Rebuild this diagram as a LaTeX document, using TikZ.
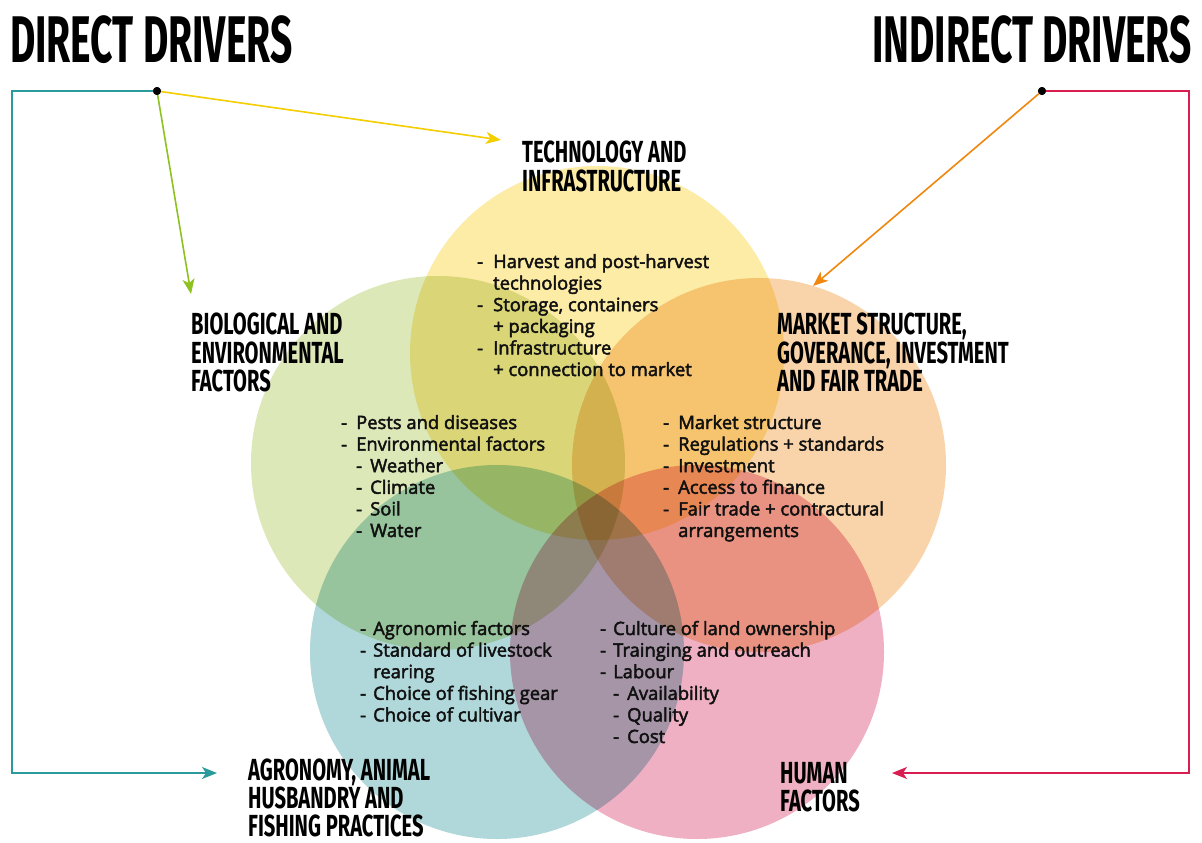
\documentclass[tikz,border=0pt]{standalone}
\usepackage{fontspec}
\setmainfont{Open Sans}[FakeBold=2.5]
\newfontfamily\bigheadfont[FakeStretch=0.59]{Fira Sans}
\newfontfamily\subheadfont[FakeStretch=0.66]{Fira Sans}
\usetikzlibrary{arrows.meta}
\definecolor{cY}{HTML}{FCECA6}
\definecolor{cG}{HTML}{DDE8B8}
\definecolor{cO}{HTML}{F9D4AA}
\definecolor{cT}{HTML}{B0D8DA}
\definecolor{cP}{HTML}{F0B0C4}
\definecolor{lnTeal}{HTML}{2A9A9C}
\definecolor{lnYellow}{HTML}{F5CE00}
\definecolor{lnGreen}{HTML}{8DC21F}
\definecolor{lnOrange}{HTML}{F0870F}
\definecolor{lnRed}{HTML}{D81E50}
\definecolor{txt}{HTML}{111111}
\begin{document}
\begin{tikzpicture}[x=1pt,y=-1pt,
  bigtitle/.style={inner sep=0pt,font=\bigheadfont\bfseries\fontsize{66}{66}\selectfont},
  subtitle/.style={inner sep=0pt,align=left,anchor=north west,font=\subheadfont\bfseries\fontsize{30.5}{28.5}\selectfont},
  lst/.style={inner sep=0pt,anchor=base west,text=txt,font=\fontsize{18.4}{21.6}\selectfont},
  dotnode/.style={circle,fill=black,inner sep=0pt,minimum size=8pt},
  conn/.style={line width=1.6pt,-{Stealth[length=15pt,width=12pt,inset=4pt]}},
  plain/.style={line width=1.6pt}
]
\useasboundingbox (0,0) rectangle (1202,843);
\fill[white] (0,0) rectangle (1202,843);
% circles
\begin{scope}[blend group=multiply]
  \fill[cY] (597,353) circle[radius=187];
  \fill[cG] (438,463) circle[radius=187];
  \fill[cO] (759,465) circle[radius=187];
  \fill[cT] (497,652) circle[radius=187];
  \fill[cP] (697,652) circle[radius=187];
\end{scope}
% titles
\node[bigtitle,anchor=north west] (direct) at (10,15) {DIRECT DRIVERS};
\node[bigtitle,anchor=north east] (indirect) at (1192,15) {INDIRECT DRIVERS};
% sub headings
\node[subtitle] (tech) at (522,141) {TECHNOLOGY AND\\INFRASTRUCTURE};
\node[subtitle] (bio) at (191,313) {BIOLOGICAL AND\\ENVIRONMENTAL\\FACTORS};
\node[subtitle] (market) at (777,313) {MARKET STRUCTURE,\\GOVERANCE, INVESTMENT\\AND FAIR TRADE};
\node[subtitle,font=\subheadfont\bfseries\fontsize{30.5}{28}\selectfont] (agro) at (248,759) {AGRONOMY, ANIMAL\\HUSBANDRY AND\\FISHING PRACTICES};
\node[subtitle] (human) at (780,762) {HUMAN\\FACTORS};
% lists
\node[lst] (techlist) at (477,268) {\begin{tabular}[t]{@{}p{16pt}@{}l@{}}
-&Harvest and post-harvest\\
&technologies\\
-&Storage, containers\\
&+ packaging\\
-&Infrastructure\\
&+ connection to market
\end{tabular}};
\node[lst] (biolist) at (341,429) {\begin{tabular}[t]{@{}p{15pt}@{}p{14pt}@{}l@{}}
-&\multicolumn{2}{@{}l@{}}{Pests and diseases}\\
-&\multicolumn{2}{@{}l@{}}{Environmental factors}\\
&-&Weather\\
&-&Climate\\
&-&Soil\\
&-&Water
\end{tabular}};
\node[lst] (marketlist) at (663,429) {\begin{tabular}[t]{@{}p{15pt}@{}l@{}}
-&Market structure\\
-&Regulations + standards\\
-&Investment\\
-&Access to finance\\
-&Fair trade + contractural\\
&arrangements
\end{tabular}};
\node[lst] (agrolist) at (360,635) {\begin{tabular}[t]{@{}p{13pt}@{}l@{}}
-&Agronomic factors\\
-&Standard of livestock\\
&rearing\\
-&Choice of fishing gear\\
-&Choice of cultivar
\end{tabular}};
\node[lst] (humanlist) at (600,635) {\begin{tabular}[t]{@{}p{13pt}@{}p{14pt}@{}l@{}}
-&\multicolumn{2}{@{}l@{}}{Culture of land ownership}\\
-&\multicolumn{2}{@{}l@{}}{Trainging and outreach}\\
-&\multicolumn{2}{@{}l@{}}{Labour}\\
&-&Availability\\
&-&Quality\\
&-&Cost
\end{tabular}};
% connectors
\node[dotnode] (dd) at (157,91) {};
\node[dotnode] (id) at (1042,91) {};
\coordinate (techin) at (501,140);
\coordinate (bioin) at (191,294);
\coordinate (marketin) at (813,286);
\coordinate (tealcorner) at (12,773);
\coordinate (agroin) at (217,773);
\coordinate (redcorner) at (1189,773);
\coordinate (humanin) at (892,773);
\draw[plain,lnTeal,-{Stealth[length=15pt,width=12pt,inset=4pt]}] (dd.center) -| (tealcorner) -- (agroin);
\draw[plain,lnRed,-{Stealth[length=15pt,width=12pt,inset=4pt]}] (id.center) -| (redcorner) -- (humanin);
\draw[conn,lnYellow] (dd) -- (techin);
\draw[conn,lnGreen] (dd) -- (bioin);
\draw[conn,lnOrange] (id) -- (marketin);
\node[dotnode] at (dd.center) {};
\node[dotnode] at (id.center) {};
\end{tikzpicture}
\end{document}
